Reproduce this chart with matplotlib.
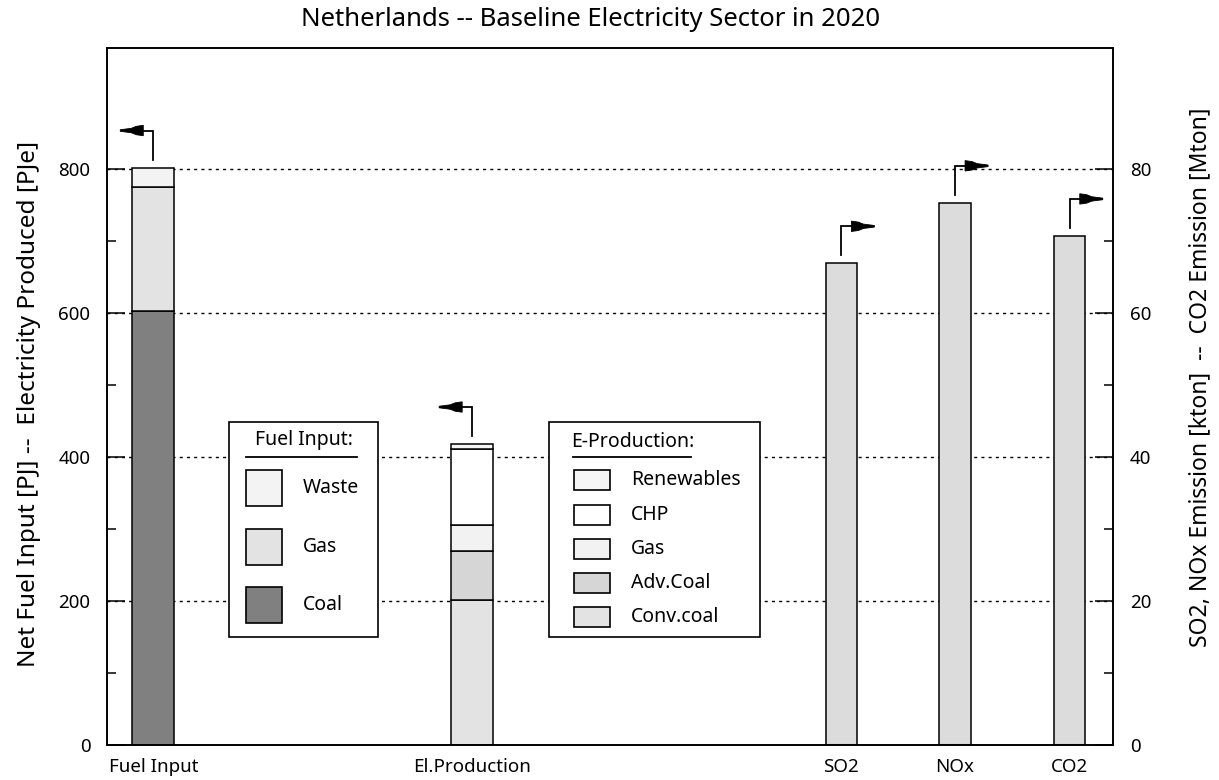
import matplotlib
matplotlib.use("Agg")
import matplotlib.pyplot as plt
from matplotlib.patches import Rectangle, Polygon
from matplotlib.lines import Line2D
from matplotlib.transforms import ScaledTranslation

plt.rcParams['font.family'] = ['Noto Sans', 'DejaVu Sans']

# ---- data ----
categories = ["Fuel Input", "El.Production", "SO2", "NOx", "CO2"]
cat_pos = [0.46, 3.63, 7.30, 8.43, 9.57]

fuel_labels = ["Coal", "Gas", "Waste"]
fuel_values = [603, 172, 27]
fuel_colors = ["#808080", "#e3e3e3", "#f3f3f3"]

prod_labels = ["Conv.coal", "Adv.Coal", "Gas", "CHP", "Renewables"]
prod_values = [202, 68, 35, 106, 7]
prod_colors = ["#e3e3e3", "#d6d6d6", "#f2f2f2", "#ffffff", "#f5f5f5"]

emis_labels = ["SO2", "NOx", "CO2"]
emis_values = [66.9, 75.3, 70.7]
emis_color = "#dcdcdc"

left_ticks = [0, 200, 400, 600, 800]
right_ticks = [0, 20, 40, 60, 80]

title = "Netherlands -- Baseline Electricity Sector in 2020"
ylabel_left = "Net Fuel Input [PJ] --  Electricity Produced [PJe]"
ylabel_right = "SO2, NOx Emission [kton]  --  CO2 Emission [Mton]"

W, H = 1219, 780
fig = plt.figure(figsize=(W / 100, H / 100), dpi=100)
ax = fig.add_axes([107 / W, 35 / H, 1006 / W, 697 / H])
ax2 = ax.twinx()

ymax_left = 968
ax.set_xlim(0, 10)
ax.set_ylim(0, ymax_left)
ax2.set_ylim(0, ymax_left / 10)

lw = 1.1
wide = 0.42
narrow = 0.31

# grid
for v in left_ticks[1:]:
    ax.axhline(v, color="black", lw=1.0, ls=(0, (2.2, 3.0)), zorder=0.5)

# fuel input stacked bar
bottom = 0
for val, col in zip(fuel_values, fuel_colors):
    ax.bar(cat_pos[0], val, width=wide, bottom=bottom, color=col,
           edgecolor="black", lw=lw, zorder=2)
    bottom += val
fuel_top = bottom

# production stacked bar
bottom = 0
for val, col in zip(prod_values, prod_colors):
    ax.bar(cat_pos[1], val, width=wide, bottom=bottom, color=col,
           edgecolor="black", lw=lw, zorder=2)
    bottom += val
prod_top = bottom

# emissions
for x, v in zip(cat_pos[2:], emis_values):
    ax2.bar(x, v, width=narrow, color=emis_color, edgecolor="black", lw=lw, zorder=2)
    ax2.plot([x - narrow / 2, x + narrow / 2], [0, 0], color="black", lw=2.2,
             zorder=3, solid_capstyle="butt")


def flag(axis, x, top, d):
    # geometry in pixels relative to the bar top, converted to inches
    tr = fig.dpi_scale_trans + ScaledTranslation(x, top, axis.transData)
    p = lambda px, py: (d * px / 100.0, py / 100.0)
    yc = 37
    axis.add_line(Line2D([p(0, 8)[0], p(0, yc)[0], p(11, yc)[0]],
                         [p(0, 8)[1], p(0, yc)[1], p(11, yc)[1]],
                         transform=tr, color="black", lw=1.3, zorder=4,
                         solid_joinstyle="miter"))
    head = [p(10, yc - 5.2), p(17, yc - 4.2), p(22, yc - 2.2), p(33, yc - 0.8),
            p(33, yc + 0.8), p(22, yc + 2.2), p(17, yc + 4.2), p(10, yc + 5.2)]
    axis.add_patch(Polygon(head, closed=True, transform=tr, fc="black",
                           ec="black", lw=0.6, zorder=4))


flag(ax, cat_pos[0], fuel_top, -1)
flag(ax, cat_pos[1], prod_top, -1)
for x, v in zip(cat_pos[2:], emis_values):
    flag(ax2, x, v, 1)

# axes styling
ax.set_xticks(cat_pos)
ax.set_xticklabels(categories, fontsize=13.5)
ax.tick_params(axis="x", length=0, pad=9)
ax.set_yticks(left_ticks)
ax.set_yticks([100, 300, 500, 700], minor=True)
ax.tick_params(axis="y", which="major", direction="in", length=13, width=1.1,
               labelsize=13.5, pad=12)
ax.tick_params(axis="y", which="minor", direction="in", length=6.5, width=1.1)
ax2.set_yticks(right_ticks)
ax2.set_yticks([10, 30, 50, 70], minor=True)
ax2.tick_params(axis="y", which="major", direction="in", length=13, width=1.1,
                labelsize=13.5, pad=12)
ax2.tick_params(axis="y", which="minor", direction="in", length=6.5, width=1.1)
for a in (ax, ax2):
    for s in a.spines.values():
        s.set_linewidth(1.2)

ax.set_ylabel(ylabel_left, fontsize=17.5)
ax.yaxis.set_label_coords(-0.066, 0.49)
ax2.set_ylabel(ylabel_right, fontsize=16.5)
ax2.yaxis.set_label_coords(1.0745, 0.528)

fig.text(591 / W, 1 - 20 / H, title, fontsize=18.5, ha="center", va="center")

# ---- legends (drawn manually in pixel layout) ----
def fx(px):
    return px / W


def fy(py):
    return 1 - py / H


def box(x0, y0, x1, y1, fc="white", lw_=1.2, z=5):
    fig.patches.append(Rectangle((fx(x0), fy(y1)), fx(x1) - fx(x0), fy(y0) - fy(y1),
                                 transform=fig.transFigure, fc=fc, ec="black",
                                 lw=lw_, zorder=z))


# Fuel Input legend
box(229, 422, 378, 637)
fig.text(fx(304), fy(440), "Fuel Input:", fontsize=14, ha="center", va="center", zorder=6)
fig.lines.append(Line2D([fx(246), fx(357)], [fy(457), fy(457)], transform=fig.transFigure,
                        color="black", lw=1.3, zorder=6))
fuel_leg_y = [488, 547, 605]
for lab, col, yc in zip(fuel_labels[::-1], fuel_colors[::-1], fuel_leg_y):
    box(246, yc - 18, 282, yc + 18, fc=col, z=6)
    fig.text(fx(303), fy(yc), lab, fontsize=14, ha="left", va="center", zorder=7)

# E-Production legend
box(549, 422, 760, 637)
fig.text(fx(571), fy(442), "E-Production:", fontsize=14, ha="left", va="center", zorder=6)
fig.lines.append(Line2D([fx(573), fx(691)], [fy(457), fy(457)], transform=fig.transFigure,
                        color="black", lw=1.3, zorder=6))
prod_leg_y = [480, 514.5, 548.5, 583, 617]
for lab, col, yc in zip(prod_labels[::-1], prod_colors[::-1], prod_leg_y):
    box(574, yc - 10, 610, yc + 10, fc=col, z=6)
    fig.text(fx(631), fy(yc), lab, fontsize=14, ha="left", va="center", zorder=7)

fig.savefig("out.png", dpi=100)
